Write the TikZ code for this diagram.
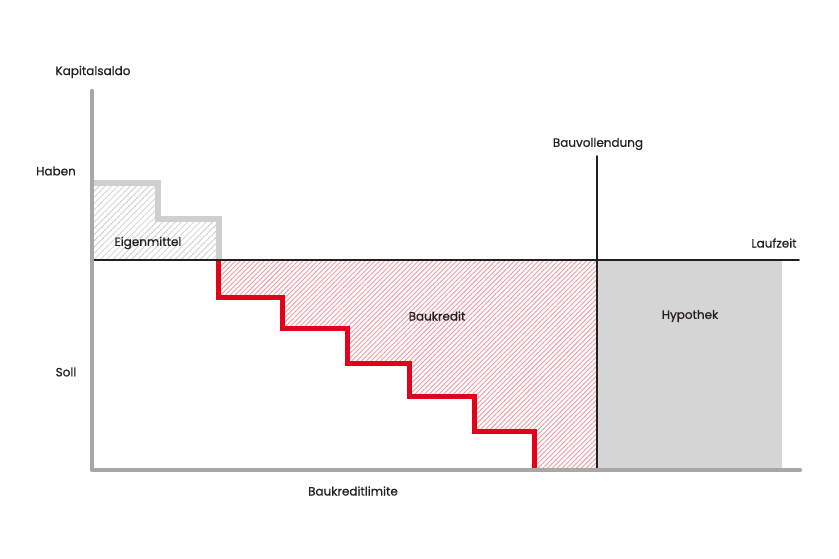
\documentclass[tikz,border=0pt]{standalone}
\usepackage{fontspec}
\setmainfont{Poppins}
\newfontfamily\saldofont{Poppins}[FakeBold=0.6]
\usetikzlibrary{patterns.meta}
\definecolor{saldoAxis}{HTML}{A7A7A7}
\definecolor{saldoOwn}{HTML}{CFCFCF}
\definecolor{saldoRed}{HTML}{E2001A}
\definecolor{saldoHatch}{HTML}{EE9AA2}
\definecolor{saldoMort}{HTML}{D5D5D5}
\definecolor{saldoInk}{HTML}{231F20}
\begin{document}
\begin{tikzpicture}[x=1pt,y=-1pt,line cap=round,line join=round]
\path[fill=white] (0,0) rectangle (839,559);
\tikzset{axis/.style={draw=saldoAxis,line width=4.5pt},zero/.style={draw=saldoInk,line width=1.6pt},credit/.style={draw=saldoRed,line width=5pt,line cap=butt,line join=miter},own/.style={draw=saldoOwn,line width=5.5pt,line cap=butt,line join=miter},label/.style={text=saldoInk,font=\saldofont\fontsize{12}{14}\selectfont,inner sep=1pt}}
% hatched areas and mortgage block
\path[pattern={Lines[angle=45,distance=4.4pt,line width=0.8pt]},pattern color=saldoOwn] (92,183) -- (158,183) -- (158,219) -- (219,219) -- (219,260) -- (92,260) -- cycle;
\path[pattern={Lines[angle=45,distance=3.4pt,line width=0.9pt]},pattern color=saldoHatch] (218,260) -- (218,297) -- (282,297) -- (282,328) -- (347,328) -- (347,363) -- (409,363) -- (409,396) -- (474,396) -- (474,431) -- (534,431) -- (534,470) -- (597,470) -- (597,260) -- cycle;
\path[fill=saldoMort] (597,260) rectangle (782,470);
% step lines
\draw[own] (92,183) -- (158,183) -- (158,219) -- (219,219) -- (219,260);
\draw[credit] (218,260) -- (218,297) -- (282,297) -- (282,328) -- (347,328) -- (347,363) -- (409,363) -- (409,396) -- (474,396) -- (474,431) -- (534,431) -- (534,468);
% zero line and completion line
\coordinate (zeroL) at (92,260); \coordinate (zeroR) at (799,260);
\coordinate (doneT) at (597,156); \coordinate (doneB) at (597,470);
\draw[zero] (zeroL) -- (zeroR);
\draw[zero] (doneT) -- (doneB);
% axes
\coordinate (origin) at (92,470); \coordinate (ytop) at (92,91); \coordinate (xend) at (800,470);
\draw[axis] (ytop) -- (origin) -- (xend);
% texts
\node[label] (kapital) at (93,72) {Kapitalsaldo};
\node[label] (haben) at (56,171) {Haben};
\node[label] (soll) at (66,372) {Soll};
\node[label] (eigen) at (148,243) {Eigenmittel};
\node[label] (kredit) at (437,316) {Baukredit};
\node[label] (hypo) at (690,316) {Hypothek};
\node[label] (bauvoll) at (598,144) {Bauvollendung};
\node[label] (laufzeit) at (774,243) {Laufzeit};
\node[label] (limite) at (353,491) {Baukreditlimite};
\end{tikzpicture}
\end{document}
